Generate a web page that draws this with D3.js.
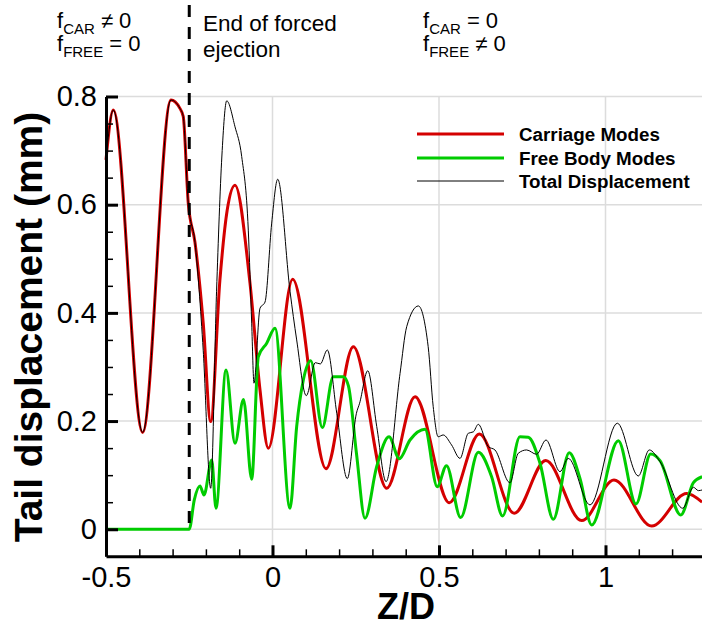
<!DOCTYPE html>
<html>
<head>
<meta charset="utf-8">
<script src="https://cdn.jsdelivr.net/npm/d3@7"></script>
<style>
  body { margin: 0; background: #fff; }
  svg text { font-family: "Liberation Sans", Arial, Helvetica, sans-serif; fill: #000; }
</style>
</head>
<body>
<svg id="chart" width="702" height="626"></svg>
<script>
// values: [Z/D, displacement in mm]
const carriageModes = [
  [-0.5, 0.683], [-0.478, 0.775], [-0.39, 0.179], [-0.305, 0.7935], [-0.278, 0.778],
  [-0.268, 0.763], [-0.253, 0.603], [-0.2327, 0.53], [-0.208, 0.381], [-0.1856, 0.199],
  [-0.158, 0.46], [-0.136, 0.59], [-0.1126, 0.636], [-0.0676, 0.455], [-0.0375, 0.2575],
  [-0.0126, 0.1497], [0.0606, 0.462], [0.1607, 0.112], [0.2427, 0.3376], [0.343, 0.0758],
  [0.428, 0.245], [0.531, 0.049], [0.621, 0.176], [0.726, 0.0296], [0.8205, 0.127],
  [0.9285, 0.016], [1.0255, 0.091], [1.1387, 0.006], [1.2438, 0.066], [1.29, 0.05]
];

const freeBodyModes = [
  [-0.5, 0], [-0.25, 0], [-0.235, 0.054], [-0.2177, 0.08], [-0.2057, 0.0634], [-0.1826, 0.128],
  [-0.1697, 0.0388], [-0.1396, 0.2945], [-0.1126, 0.159], [-0.0871, 0.24], [-0.0625, 0.0924],
  [-0.0426, 0.319], [-0.0174, 0.344], [0.0075, 0.3715], [0.0526, 0.0388], [0.0726, 0.19],
  [0.0926, 0.276], [0.1147, 0.3117], [0.1496, 0.188], [0.1826, 0.282], [0.2127, 0.282],
  [0.228, 0.265], [0.252, 0.141], [0.2778, 0.0203], [0.3128, 0.1157], [0.3498, 0.171],
  [0.3808, 0.1305], [0.4129, 0.165], [0.458, 0.1848], [0.4946, 0.0788], [0.5225, 0.1176],
  [0.565, 0.0215], [0.618, 0.1423], [0.658, 0.097], [0.691, 0.0246], [0.7432, 0.171],
  [0.768, 0.17], [0.8033, 0.122], [0.8434, 0.0185], [0.891, 0.1416], [0.9234, 0.094],
  [0.9585, 0.008], [1.0385, 0.1638], [1.0916, 0.0468], [1.1357, 0.139], [1.1637, 0.127],
  [1.226, 0.0264], [1.264, 0.086], [1.29, 0.097]
];

const totalDisplacement = [
  [-0.5, 0.683], [-0.478, 0.775], [-0.39, 0.179], [-0.305, 0.7935], [-0.278, 0.778],
  [-0.268, 0.763], [-0.253, 0.603], [-0.2327, 0.53], [-0.208, 0.33], [-0.1856, 0.0758],
  [-0.168, 0.44], [-0.152, 0.69], [-0.1375, 0.792], [-0.1126, 0.744], [-0.0925, 0.689],
  [-0.0727, 0.553], [-0.0625, 0.381], [-0.0556, 0.27], [-0.0375, 0.4085], [-0.0225, 0.42],
  [-0.0024, 0.566], [0.0156, 0.647], [0.0526, 0.44], [0.0726, 0.35], [0.1015, 0.247],
  [0.1286, 0.308], [0.1436, 0.3056], [0.1646, 0.3314], [0.193, 0.2144], [0.2246, 0.0936],
  [0.252, 0.2144], [0.2616, 0.233], [0.286, 0.293], [0.313, 0.19], [0.341, 0.088],
  [0.383, 0.288], [0.403, 0.3745], [0.438, 0.4128], [0.4675, 0.3375], [0.4826, 0.2266],
  [0.4976, 0.171], [0.5126, 0.1743], [0.5376, 0.156], [0.5631, 0.131], [0.588, 0.1775],
  [0.603, 0.18], [0.618, 0.194], [0.648, 0.1527], [0.668, 0.1466], [0.713, 0.086],
  [0.738, 0.1405], [0.763, 0.1466], [0.793, 0.1386], [0.8213, 0.165], [0.8634, 0.1065],
  [0.888, 0.131], [0.9535, 0.045], [1.0355, 0.196], [1.0985, 0.0985], [1.1315, 0.1466],
  [1.1637, 0.125], [1.232, 0.0388], [1.264, 0.0776], [1.279, 0.0714], [1.29, 0.0726]
];

const xMajorTicks = [-0.5, 0, 0.5, 1];
const xMinorTicks = [-0.4, -0.3, -0.2, -0.1, 0.1, 0.2, 0.3, 0.4, 0.6, 0.7, 0.8, 0.9, 1.1, 1.2];
const yMajorTicks = [0, 0.2, 0.4, 0.6, 0.8];
const yMinorTicks = [0.05, 0.1, 0.15, 0.25, 0.3, 0.35, 0.45, 0.5, 0.55, 0.65, 0.7, 0.75];

const endOfEjection = -0.25;

const series = [
  { name: 'Carriage Modes', data: carriageModes, color: '#d40000', width: 3 },
  { name: 'Free Body Modes', data: freeBodyModes, color: '#00cc00', width: 3 },
  { name: 'Total Displacement', data: totalDisplacement, color: '#000', width: 1 }
];

const svg = d3.select('#chart');

const x = d3.scaleLinear().domain([-0.5, 1.3]).range([106, 705.4]);
const y = d3.scaleLinear().domain([-0.05, 0.8]).range([556.3, 96.5]);

// grid
const grid = svg.append('g').attr('stroke', '#dcdcdc').attr('stroke-width', 1.5);
grid.selectAll('.gx').data(xMajorTicks.filter(d => d > -0.5)).enter().append('line')
    .attr('x1', d => x(d)).attr('x2', d => x(d))
    .attr('y1', y(-0.05)).attr('y2', y(0.8));
grid.selectAll('.gy').data(yMajorTicks).enter().append('line')
    .attr('x1', x(-0.5)).attr('x2', x(1.3))
    .attr('y1', d => y(d)).attr('y2', d => y(d));

// curves
const line = d3.line()
    .x(d => x(d[0]))
    .y(d => y(d[1]))
    .curve(d3.curveMonotoneX);

svg.append('g').selectAll('path')
    .data(series)
    .enter().append('path')
    .attr('fill', 'none')
    .attr('stroke', d => d.color)
    .attr('stroke-width', d => d.width)
    .attr('stroke-linejoin', 'round')
    .attr('d', d => line(d.data));

// dashed line at end of forced ejection
svg.append('line')
    .attr('x1', x(endOfEjection)).attr('x2', x(endOfEjection))
    .attr('y1', 5).attr('y2', y(0))
    .attr('stroke', '#000')
    .attr('stroke-width', 3)
    .attr('stroke-dasharray', '12,10');

// axes
const fmt = d => String(d);

const xAxis = svg.append('g')
    .attr('transform', `translate(0,${y(-0.05)})`)
    .call(d3.axisBottom(x).tickValues(xMajorTicks).tickFormat(fmt)
        .tickSizeInner(-11).tickSizeOuter(0).tickPadding(10));
xAxis.append('g').call(d3.axisBottom(x).tickValues(xMinorTicks).tickFormat('')
        .tickSizeInner(-7).tickSizeOuter(0))
    .select('.domain').remove();

const yAxis = svg.append('g')
    .attr('transform', `translate(${x(-0.5)},0)`)
    .call(d3.axisLeft(y).tickValues(yMajorTicks).tickFormat(fmt)
        .tickSizeInner(-12).tickSizeOuter(0).tickPadding(9));
yAxis.append('g').call(d3.axisLeft(y).tickValues(yMinorTicks).tickFormat('')
        .tickSizeInner(-7).tickSizeOuter(0))
    .select('.domain').remove();

svg.selectAll('.domain').attr('stroke', '#000').attr('stroke-width', 3);
xAxis.selectAll(':scope > .tick line').attr('stroke-width', 3);
yAxis.selectAll(':scope > .tick line').attr('stroke-width', 3);
xAxis.selectAll(':scope > g .tick line').attr('stroke-width', 1.5);
yAxis.selectAll(':scope > g .tick line').attr('stroke-width', 1.5);
svg.selectAll('.tick text')
    .style('font-family', '"Liberation Sans", Arial, sans-serif')
    .style('font-size', '29px')
    .attr('fill', '#000');

// axis titles
svg.append('text')
    .attr('x', 406).attr('y', 619)
    .attr('text-anchor', 'middle')
    .style('font-size', '36px').style('font-weight', 'bold')
    .text('Z/D');

svg.append('text')
    .attr('transform', 'translate(42,327) rotate(-90)')
    .attr('text-anchor', 'middle')
    .style('font-size', '39px').style('font-weight', 'bold')
    .text('Tail displacement (mm)');

// legend
const legend = svg.append('g');
series.forEach((s, i) => {
    const ly = [134, 158, 181][i];
    legend.append('line')
        .attr('x1', 417).attr('x2', 504).attr('y1', ly).attr('y2', ly)
        .attr('stroke', s.color).attr('stroke-width', s.width === 1 ? 1 : 3);
    legend.append('text')
        .attr('x', 519).attr('y', ly + 7)
        .style('font-size', '18.8px').style('font-weight', 'bold')
        .text(s.name);
});

// annotations
function regime(xp, carOp, freeOp) {
    const t = svg.append('text').attr('x', xp).attr('y', 28).style('font-size', '22px');
    t.append('tspan').text('f');
    t.append('tspan').attr('dy', 6).style('font-size', '15px').text('CAR');
    t.append('tspan').attr('dy', -6).text(' ' + carOp + ' 0');
    t.append('tspan').attr('x', xp).attr('dy', 23).text('f');
    t.append('tspan').attr('dy', 6).style('font-size', '15px').text('FREE');
    t.append('tspan').attr('dy', -6).text(' ' + freeOp + ' 0');
}
regime(57, '\u2260', '=');
regime(423, '=', '\u2260');

svg.append('text').attr('x', 203).attr('y', 31).style('font-size', '22.5px').text('End of forced');
svg.append('text').attr('x', 203).attr('y', 57).style('font-size', '22.5px').text('ejection');
</script>
</body>
</html>
